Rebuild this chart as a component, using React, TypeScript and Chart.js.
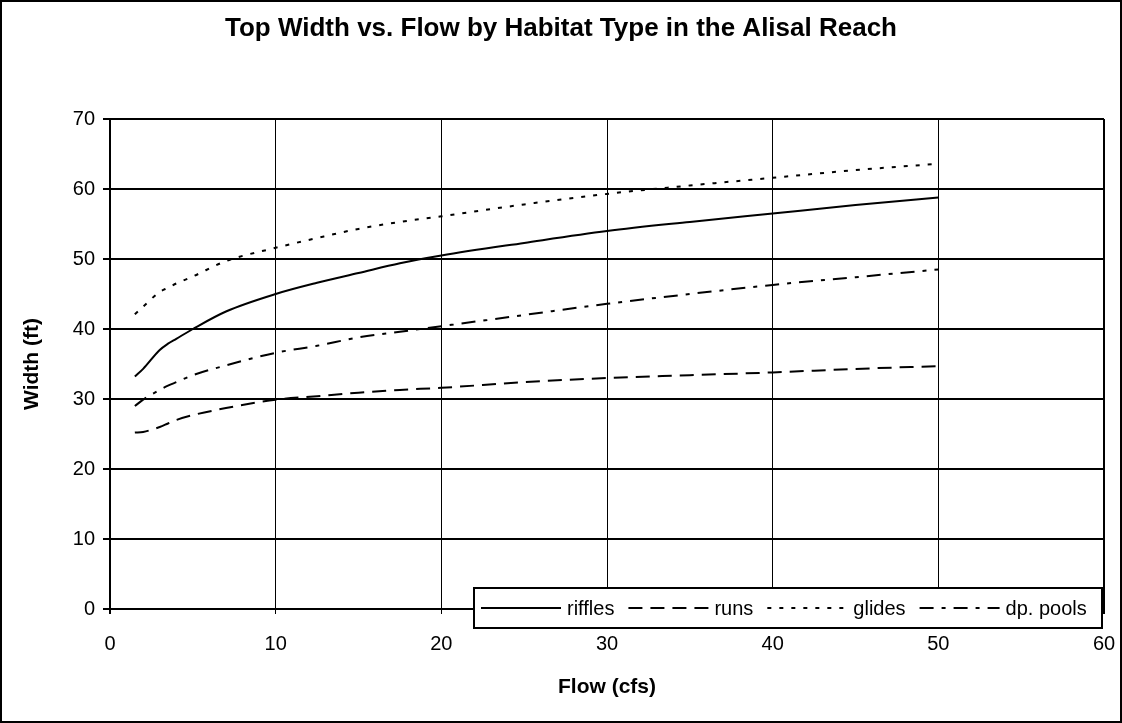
import { useEffect, useRef } from "react";
import { Chart, registerables } from "chart.js";

Chart.register(...registerables);

const chartTitle = "Top Width vs. Flow by Habitat Type in the Alisal Reach";
const xAxisTitle = "Flow (cfs)";
const yAxisTitle = "Width (ft)";

const flows = [1.5, 2, 3, 3.5, 4, 5, 7, 10, 12.5, 15, 17.5, 20, 25, 30, 35, 40, 45, 50];
const riffles = [33.2, 34.3, 37.0, 37.9, 38.6, 40.0, 42.5, 45.0, 46.6, 48.0, 49.4, 50.5, 52.3, 54.0, 55.3, 56.5, 57.7, 58.8];
const runs = [25.2, 25.3, 26.0, 26.5, 27.0, 27.7, 28.7, 29.9, 30.4, 30.9, 31.3, 31.6, 32.4, 33.0, 33.4, 33.8, 34.3, 34.7];
const glides = [42.1, 43.2, 45.3, 45.9, 46.5, 47.5, 49.7, 51.6, 53.0, 54.3, 55.3, 56.1, 57.8, 59.3, 60.5, 61.6, 62.7, 63.6];
const dpPools = [29.0, 29.9, 31.3, 31.9, 32.4, 33.4, 34.8, 36.6, 37.6, 38.8, 39.6, 40.4, 42.0, 43.6, 45.0, 46.3, 47.4, 48.5];

const seriesNames = ["riffles", "runs", "glides", "dp. pools"];
const seriesValues = [riffles, runs, glides, dpPools];
const seriesDashes: number[][] = [[], [14, 8], [4, 8], [14, 8, 4, 8]];

const xMin = 0;
const xMax = 60;
const xStep = 10;
const yMin = 0;
const yMax = 70;
const yStep = 10;

const FONT = "'Liberation Sans', Arial, Helvetica, sans-serif";

const framePlugin = {
  id: "frame",
  beforeDraw(chart: any) {
    const { ctx, width, height } = chart;
    ctx.save();
    ctx.fillStyle = "#ffffff";
    ctx.fillRect(0, 0, width, height);
    ctx.restore();
  },
  afterDraw(chart: any) {
    const { ctx, width, height } = chart;
    ctx.save();
    ctx.strokeStyle = "#000000";
    ctx.lineWidth = 2;
    ctx.strokeRect(1, 1, width - 2, height - 2);
    ctx.restore();
  },
};

const titlePlugin = {
  id: "customTitle",
  afterDraw(chart: any) {
    const { ctx, width } = chart;
    ctx.save();
    ctx.font = `bold 26px ${FONT}`;
    ctx.fillStyle = "#000000";
    ctx.textAlign = "center";
    ctx.textBaseline = "alphabetic";
    ctx.fillText(chartTitle, width / 2, 36);
    ctx.restore();
  },
};

const legendPlugin = {
  id: "boxLegend",
  afterDraw(chart: any) {
    const { ctx } = chart;
    const left = 474;
    const top = 588;
    const right = 1102;
    const bottom = 628;
    ctx.save();
    ctx.fillStyle = "#ffffff";
    ctx.fillRect(left, top, right - left, bottom - top);
    ctx.strokeStyle = "#000000";
    ctx.lineWidth = 2;
    ctx.strokeRect(left, top, right - left, bottom - top);
    ctx.font = `20px ${FONT}`;
    ctx.textBaseline = "middle";
    ctx.textAlign = "left";
    const cy = 608;
    let x = 481;
    chart.data.datasets.forEach((ds: any) => {
      ctx.save();
      ctx.setLineDash(ds.borderDash || []);
      ctx.lineWidth = 2;
      ctx.strokeStyle = "#000000";
      ctx.beginPath();
      ctx.moveTo(x, cy);
      ctx.lineTo(x + 80, cy);
      ctx.stroke();
      ctx.restore();
      x += 86;
      ctx.fillStyle = "#000000";
      ctx.fillText(ds.label, x, cy + 1);
      x += ctx.measureText(ds.label).width + 14;
    });
    ctx.restore();
  },
};

export default function App() {
  const canvasRef = useRef<HTMLCanvasElement | null>(null);

  useEffect(() => {
    document.body.style.margin = "0";
    const canvas = canvasRef.current;
    if (!canvas) return;
    const datasets = seriesNames.map((name, i) => ({
      label: name,
      data: flows.map((f, j) => ({ x: f, y: seriesValues[i][j] })),
      borderColor: "#000000",
      backgroundColor: "#000000",
      borderWidth: 2,
      borderDash: seriesDashes[i],
      pointRadius: 0,
      showLine: true,
      fill: false,
      cubicInterpolationMode: "monotone" as const,
    }));

    const chart = new Chart(canvas, {
      type: "scatter",
      data: { datasets },
      options: {
        animation: false,
        responsive: false,
        devicePixelRatio: 1,
        layout: { padding: { top: 119, right: 18, bottom: 0, left: 0 } },
        plugins: {
          legend: { display: false },
          title: { display: false },
          tooltip: { enabled: false },
        },
        scales: {
          x: {
            type: "linear",
            min: xMin,
            max: xMax,
            ticks: {
              stepSize: xStep,
              color: "#000000",
              font: { family: FONT, size: 20 },
              padding: 18,
              maxRotation: 0,
            },
            grid: {
              color: "#000000",
              lineWidth: (c: any) => (c.tick && (c.tick.value === xMin || c.tick.value === xMax) ? 2 : 1),
              tickLength: 5,
              drawOnChartArea: true,
            },
            border: { display: true, color: "#000000", width: 2 },
            title: {
              display: true,
              text: xAxisTitle,
              color: "#000000",
              font: { family: FONT, size: 21, weight: "bold" },
              padding: { top: 0, bottom: 23 },
            },
            afterFit(scale: any) {
              scale.height = 114;
              scale.paddingLeft = 0;
              scale.paddingRight = 0;
            },
          },
          y: {
            type: "linear",
            min: yMin,
            max: yMax,
            ticks: {
              stepSize: yStep,
              color: "#000000",
              font: { family: FONT, size: 20 },
              padding: 8,
            },
            grid: {
              color: "#000000",
              lineWidth: 2,
              tickLength: 7,
            },
            border: { display: true, color: "#000000", width: 2 },
            title: {
              display: true,
              text: yAxisTitle,
              color: "#000000",
              font: { family: FONT, size: 21, weight: "bold" },
              padding: { top: 20, bottom: 0 },
            },
            afterFit(scale: any) {
              scale.width = 110;
              scale.paddingTop = 0;
              scale.paddingBottom = 0;
            },
          },
        },
      },
      plugins: [framePlugin, titlePlugin, legendPlugin],
    });
    return () => chart.destroy();
  }, []);

  return (
    <div style={{ width: 1122, height: 723 }}>
      <canvas ref={canvasRef} width={1122} height={723} style={{ display: "block", width: 1122, height: 723 }} />
    </div>
  );
}
